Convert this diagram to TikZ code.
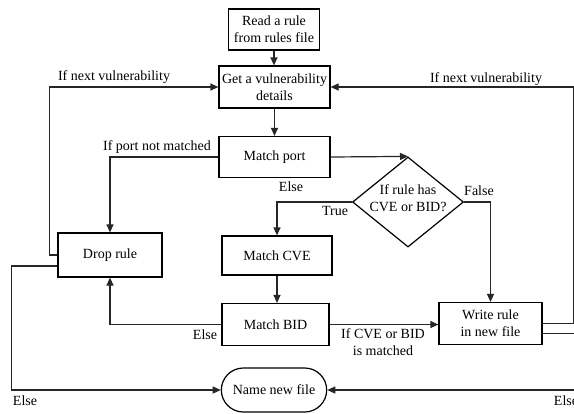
\documentclass[tikz,border=0pt]{standalone}
\usepackage{fontspec}
\setmainfont{Liberation Serif}
\usetikzlibrary{arrows.meta,positioning,shapes.geometric,shapes.misc}

\begin{document}
\begin{tikzpicture}[
  x=1bp,y=-1bp,
  font=\fontsize{14bp}{17bp}\selectfont,
  >={Triangle[length=8bp,width=7bp]},
  pbox/.style={draw, line width=1.2bp, align=center, inner sep=2pt},
  decis/.style={diamond, draw, line width=1.2bp, aspect=1.23, inner sep=0pt, minimum width=111bp, minimum height=90bp},
  term/.style={rounded rectangle, draw, line width=1.2bp, minimum width=112bp, minimum height=44bp},
  lbl/.style={align=center, inner sep=0pt},
  flowarr/.style={->, line width=1.2bp, color=black!85},
]
\fill[white] (0,0) rectangle (574,413);
\useasboundingbox (0,0) rectangle (574,413);

% main column
\node[pbox,minimum width=91bp,minimum height=41bp] (read) at (274,29.5) {Read a rule\\from rules file};
\node[pbox,minimum width=111bp,minimum height=42bp] (get) at (274.5,87) {Get a vulnerability\\details};
\node[pbox,minimum width=111bp,minimum height=41bp] (port) at (274.5,157) {Match port};
\node[decis] (dec) at (408,202) {};
\node[lbl] (dectxt) at (408,198) {If rule has\\CVE or BID?};
\node[pbox,minimum width=104bp,minimum height=44bp] (drop) at (110,255) {Drop rule};
\node[pbox,minimum width=110bp,minimum height=39bp] (cve) at (277,255.5) {Match CVE};
\node[pbox,minimum width=107bp,minimum height=42bp] (bid) at (275.5,324.5) {Match BID};
\node[pbox,minimum width=103bp,minimum height=42bp] (write) at (490.5,323.5) {Write rule\\in new file};
\node[term] (name) at (274,390) {Name new file};

% flow
\draw[flowarr] (read) -- (read.south |- get.north);
\draw[flowarr] (get) -- (port);
\draw[flowarr] (port.east) -- (dec.north);
\draw[flowarr] (dec.west) -| (cve.north);
\draw[flowarr] (dec.east) -| (write.north);
\draw[flowarr] (cve.south) -- (cve.south |- bid.north);
\draw[flowarr] (bid.east) -- (bid.east -| write.west);
\draw[flowarr] (bid.west) -| (drop.south);
\draw[flowarr] (port.west) -| (drop.north);
% loops back
\draw[flowarr] (drop.west) -- ++(-8,0) |- (get.west);
\draw[flowarr] ([yshift=-11bp]drop.west) -- ++(-46,0) |- (name.west);
\draw[flowarr] (write.east) -- ++(31,0) |- (get.east);
\draw[flowarr] ([yshift=-10bp]write.east) -- ++(40,0) |- (name.east);

% labels
\node[lbl] (nxtl) at (114,77) {If next vulnerability};
\node[lbl] (nxtr) at (486,79) {If next vulnerability};
\node[lbl] (portl) at (157,147) {If port not matched};
\node[lbl] (elseport) at (291,187) {Else};
\node[lbl] (truel) at (335,211) {True};
\node[lbl] (falsel) at (479,191) {False};
\node[lbl] (elsebid) at (205,335) {Else};
\node[lbl] (matchl) at (383,342) {If CVE or BID\\is matched};
\node[lbl] (elsedrop) at (25,401) {Else};
\node[lbl] (elsewrite) at (566,401) {Else};

\end{tikzpicture}
\end{document}
